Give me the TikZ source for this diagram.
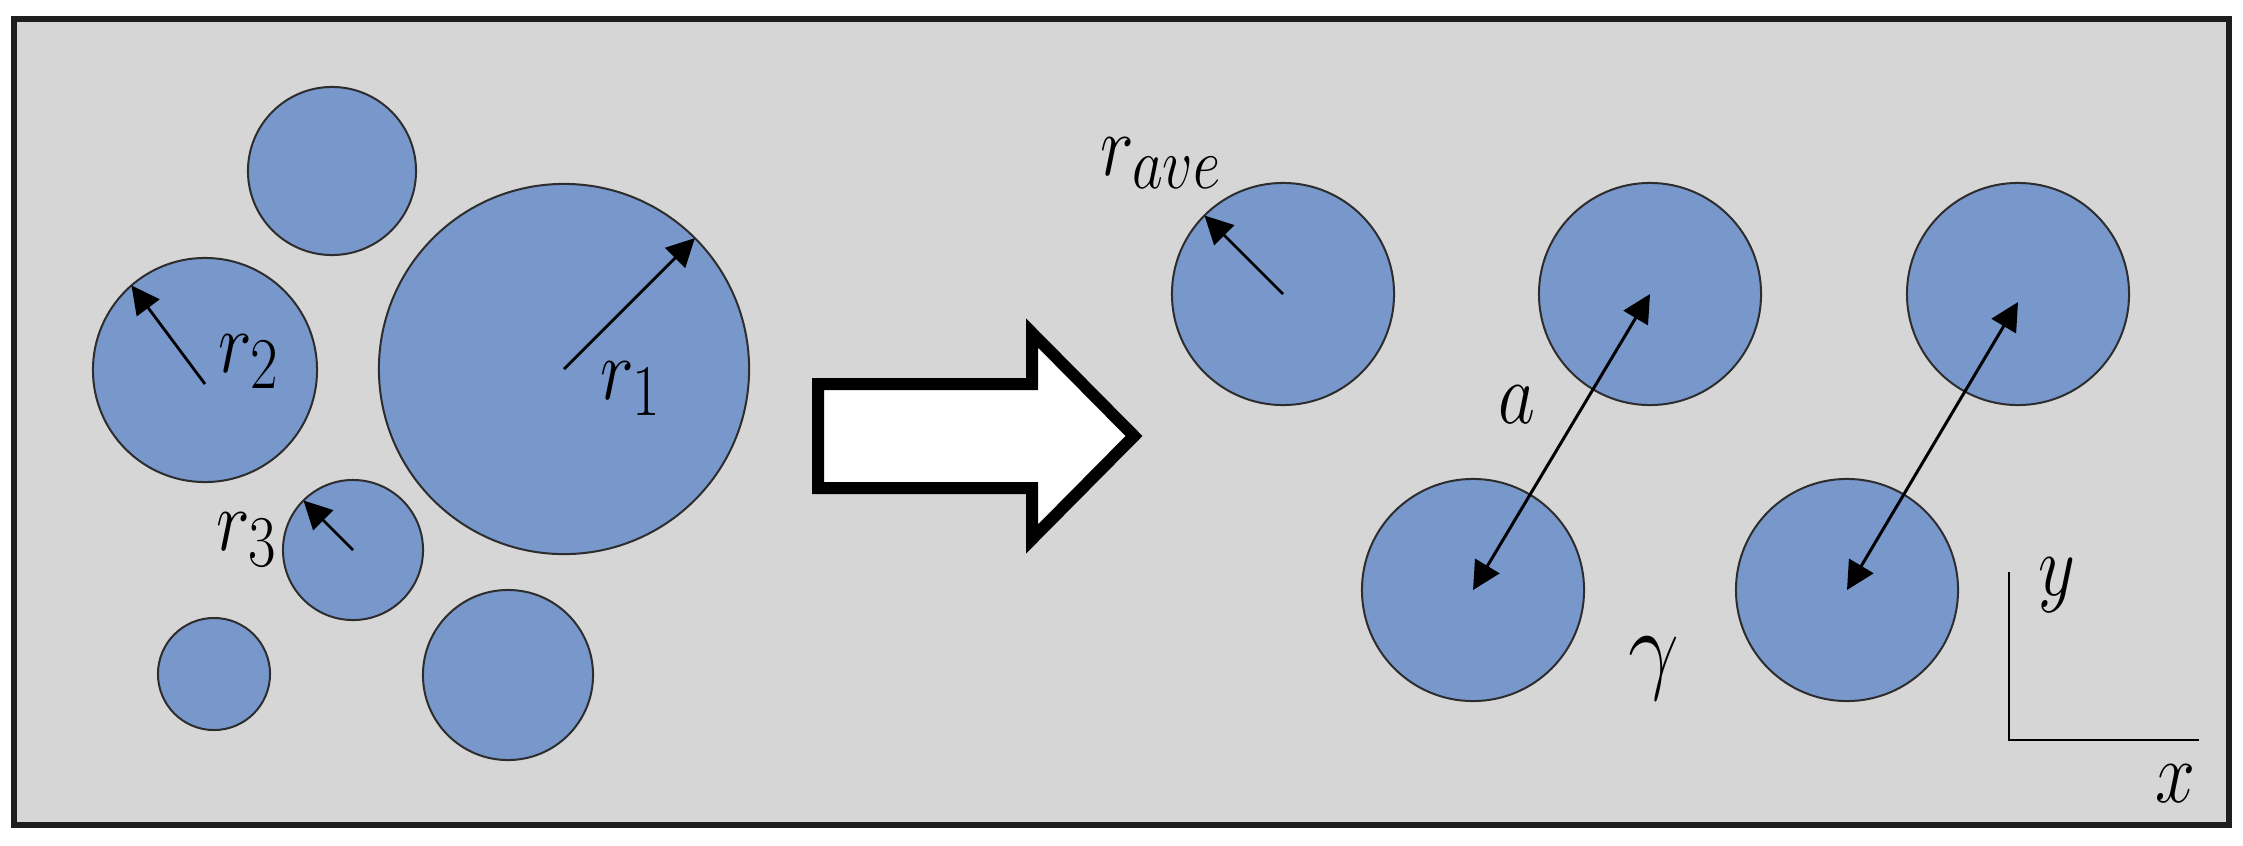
\documentclass[tikz,border=0pt]{standalone}
\usetikzlibrary{arrows.meta}
\definecolor{bggray}{RGB}{214,214,214}
\definecolor{framecol}{RGB}{30,30,30}
\definecolor{ballblue}{RGB}{120,151,203}
\definecolor{ballrim}{RGB}{100,130,186}
\definecolor{balledge}{RGB}{45,45,45}
\pgfdeclareradialshading{ballrimshade}{\pgfpoint{0bp}{0bp}}{color(0bp)=(ballblue); color(43bp)=(ballblue); color(50bp)=(ballrim)}
\begin{document}
\begin{tikzpicture}[x=0.01cm,y=-0.01cm,
  ball/.style={circle,draw=balledge,line width=0.02cm,shading=ballrimshade,inner sep=0pt,outer sep=0pt},
  rad/.style={line width=0.028cm,-{Triangle[length=0.28cm,width=0.28cm]}},
  dist/.style={line width=0.03cm,{Triangle[length=0.28cm,width=0.28cm]}-{Triangle[length=0.28cm,width=0.28cm]}},
  lab/.style={font=\fontsize{24.88}{28}\selectfont,inner sep=0pt,anchor=base west,xscale=0.82},
  biglab/.style={font=\fontsize{24.88}{28}\selectfont,inner sep=0pt,anchor=base west,scale=1.15,xscale=0.9},
  axisline/.style={line width=0.025cm}]
\useasboundingbox (0,0) rectangle (2243,845);
% frame
\draw[line width=0.055cm,draw=framecol,fill=bggray] (14,19) rectangle (2229,825);
% left group
\node[ball,minimum size=3.70cm] (c1) at (564,369) {};
\node[ball,minimum size=2.24cm] (c2) at (205,370) {};
\node[ball,minimum size=1.40cm] (c3) at (353,550) {};
\node[ball,minimum size=1.68cm] (c4) at (332,171) {};
\node[ball,minimum size=1.12cm] (c5) at (214,674) {};
\node[ball,minimum size=1.70cm] (c6) at (508,675) {};
\draw[rad] (c1.center) -- (c1.45);
\draw[rad] ([yshift=-0.14cm]c2.center) -- (c2.131);
\draw[rad] (c3.center) -- (c3.135);
\node[lab] (l1) at (600,399) {$r_1$};
\node[lab] (l2) at (218,372) {$r_2$};
\node[lab] (l3) at (216,550) {$r_3$};
% block arrow
\draw[line width=0.12cm,fill=white,miter limit=20] (818,384) -- (1032,384) -- (1032,333) -- (1134,436) -- (1032,539) -- (1032,488) -- (818,488) -- cycle;
% right group
\node[ball,minimum size=2.22cm] (ca) at (1283,294) {};
\node[ball,minimum size=2.22cm] (cb1) at (1473,590) {};
\node[ball,minimum size=2.22cm] (cb2) at (1650,294) {};
\node[ball,minimum size=2.22cm] (cd1) at (1847,590) {};
\node[ball,minimum size=2.22cm] (cd2) at (2018,294) {};
\draw[rad] (ca.center) -- (ca.135);
\draw[dist] (cb1.center) -- (cb2.center);
\draw[dist] (cd1.center) -- ([yshift=-0.08cm]cd2.center);
\node[lab] (lave) at (1100,175) {$r_{ave}$};
\node[lab] (la) at (1498,423) {$a$};
\node[biglab] (lg) at (1628,680) {$\gamma$};
% axes
\coordinate (ay) at (2009,572);
\coordinate (ao) at (2009,740);
\coordinate (ax) at (2199,740);
\draw[axisline] (ay) -- (ao) -- (ax);
\node[lab] (ly) at (2038,595) {$y$};
\node[lab] (lx) at (2155,802) {$x$};
\end{tikzpicture}
\end{document}
